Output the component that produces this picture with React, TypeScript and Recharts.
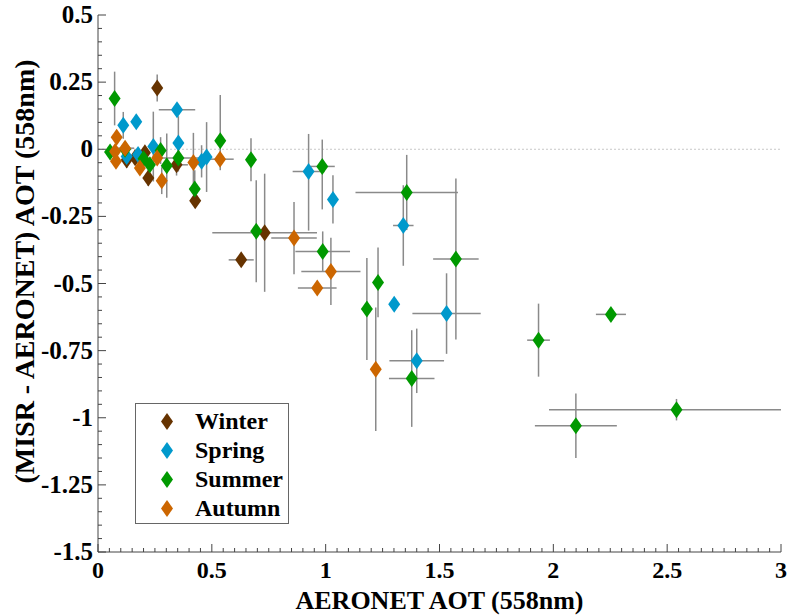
import React from 'react';
import {
  ScatterChart,
  Scatter,
  XAxis,
  YAxis,
  ErrorBar,
  ReferenceLine,
  Legend,
  Label,
} from 'recharts';

// [AERONET AOT, MISR - AERONET, x error, y error]; an error is ± or [low, high]
type Err = number | [number, number];
type Row = [number, number, Err, Err];

const WINTER: Row[] = [
  [0.126, -0.04, 0, 0.03],
  [0.163, -0.032, 0, 0],
  [0.206, -0.013, 0, 0],
  [0.221, -0.107, 0, 0.03],
  [0.345, -0.058, 0.05, 0.04],
  [0.26, 0.228, 0, 0.05],
  [0.427, -0.192, 0, 0],
  [0.629, -0.412, 0.055, 0],
  [0.732, -0.311, 0.23, 0.22],
];

const SPRING: Row[] = [
  [0.111, 0.089, 0, 0.05],
  [0.126, -0.027, 0, 0.03],
  [0.168, 0.102, 0, 0],
  [0.176, -0.02, 0, 0],
  [0.243, 0.01, 0, 0.13],
  [0.347, 0.147, 0.08, 0.02],
  [0.353, 0.023, 0, 0.1],
  [0.455, -0.045, 0, 0.06],
  [0.477, -0.029, 0, 0.13],
  [0.925, -0.083, 0.07, [0.22, 0.14]],
  [1.032, -0.187, 0, 0.09],
  [1.341, -0.284, 0.045, 0.15],
  [1.301, -0.577, 0, 0],
  [1.531, -0.612, 0.15, 0.15],
  [1.4, -0.788, 0.12, 0.12],
];

const SUMMER: Row[] = [
  [0.053, -0.01, 0, 0],
  [0.073, 0.189, 0, 0.1],
  [0.119, 0.0, 0, 0.03],
  [0.2, -0.035, 0, 0],
  [0.228, -0.058, 0, 0],
  [0.275, -0.005, 0, 0.05],
  [0.302, -0.061, 0, 0.12],
  [0.353, -0.033, 0.1, 0.05],
  [0.425, -0.148, 0, 0.07],
  [0.537, 0.032, 0, [0.11, 0.17]],
  [0.672, -0.039, 0, 0.08],
  [0.695, -0.305, 0, 0.19],
  [0.985, -0.064, 0.055, [0.16, 0.1]],
  [0.987, -0.381, 0.12, 0.075],
  [1.181, -0.595, 0, 0.19],
  [1.23, -0.496, 0, 0.13],
  [1.356, -0.161, 0.225, 0.14],
  [1.378, -0.854, 0.1, 0.18],
  [1.572, -0.409, 0.1, 0.3],
  [1.935, -0.711, 0.05, 0.136],
  [2.099, -1.03, 0.18, 0.12],
  [2.253, -0.615, 0.066, 0],
  [2.541, -0.97, [0.56, 0.459], 0.04],
];

const AUTUMN: Row[] = [
  [0.075, -0.008, 0, 0],
  [0.079, -0.045, 0, 0],
  [0.082, 0.045, 0, 0],
  [0.119, 0.004, 0.04, 0],
  [0.184, -0.07, 0, 0],
  [0.26, -0.033, 0, 0],
  [0.28, -0.117, 0, 0.05],
  [0.419, -0.049, 0, 0.11],
  [0.536, -0.037, 0.06, 0],
  [0.861, -0.331, 0.1, 0.135],
  [0.963, -0.517, 0.085, 0],
  [1.023, -0.455, 0.13, 0.125],
  [1.22, -0.819, 0, 0.23],
];

const SEASONS = [
  { name: 'Winter', color: '#663300', rows: WINTER },
  { name: 'Spring', color: '#0099cc', rows: SPRING },
  { name: 'Summer', color: '#009900', rows: SUMMER },
  { name: 'Autumn', color: '#cc6600', rows: AUTUMN },
];

const X_MAJOR = [0, 0.5, 1, 1.5, 2, 2.5, 3];
const Y_MAJOR = [-1.5, -1.25, -1, -0.75, -0.5, -0.25, 0, 0.25, 0.5];

const FONT = "'Liberation Serif', 'DejaVu Serif', 'Times New Roman', Times, serif";
const AXIS = '#444';
const ERR = '#8a8a8a';

// minor ticks every 0.05 between the first and last major tick
const minorTicks = (major: number[]) => {
  const out: number[] = [];
  const n = Math.round((major[major.length - 1] - major[0]) / 0.05);
  for (let i = 0; i <= n; i++) out.push(Math.round((major[0] + i * 0.05) * 100) / 100);
  return out;
};
const X_TICKS = minorTicks(X_MAJOR);
const Y_TICKS = minorTicks(Y_MAJOR);
const isMajor = (v: number, list: number[]) => list.some((m) => Math.abs(m - v) < 1e-6);

const BottomTick = (p: any) => {
  const major = isMajor(p.payload.value, X_MAJOR);
  return (
    <g>
      <line x1={p.x} x2={p.x} y1={p.y} y2={p.y - (major ? 8 : 4)} stroke={AXIS} />
      {major && (
        <text x={p.x} y={p.y + 26} textAnchor="middle" fontFamily={FONT} fontWeight={700} fontSize={24} fill="#000">
          {String(p.payload.value)}
        </text>
      )}
    </g>
  );
};

const TopTick = (p: any) => {
  const major = isMajor(p.payload.value, X_MAJOR);
  return <line x1={p.x} x2={p.x} y1={p.y} y2={p.y + (major ? 8 : 4)} stroke={AXIS} />;
};

const LeftTick = (p: any) => {
  const major = isMajor(p.payload.value, Y_MAJOR);
  return (
    <g>
      <line x1={p.x} x2={p.x + (major ? 8 : 4)} y1={p.y} y2={p.y} stroke={AXIS} />
      {major && (
        <text x={p.x - 5} y={p.y + 8} textAnchor="end" fontFamily={FONT} fontWeight={700} fontSize={25} fill="#000">
          {String(p.payload.value)}
        </text>
      )}
    </g>
  );
};

const RightTick = (p: any) => {
  const major = isMajor(p.payload.value, Y_MAJOR);
  return <line x1={p.x} x2={p.x - (major ? 8 : 4)} y1={p.y} y2={p.y} stroke={AXIS} />;
};

const Diamond = (p: any) => {
  const { cx, cy, fill } = p;
  if (cx == null || cy == null) return null;
  return <polygon points={`${cx},${cy - 8.5} ${cx + 6},${cy} ${cx},${cy + 8.5} ${cx - 6},${cy}`} fill={fill} />;
};

const SeasonLegend = () => (
  <div
    style={{
      width: 154,
      height: 121,
      border: '1px solid #666',
      boxSizing: 'border-box',
      background: '#fff',
      paddingTop: 3,
    }}
  >
    {SEASONS.map((s) => (
      <div key={s.name} style={{ height: 29, display: 'flex', alignItems: 'center' }}>
        <svg width={12} height={17} style={{ marginLeft: 25, marginRight: 22 }}>
          <polygon points="6,0 12,8.5 6,17 0,8.5" fill={s.color} />
        </svg>
        <span style={{ fontFamily: FONT, fontWeight: 700, fontSize: 24, color: '#000', lineHeight: '29px' }}>
          {s.name}
        </span>
      </div>
    ))}
  </div>
);

const XTitle = (p: any) => {
  const vb = p.viewBox;
  return (
    <text
      x={vb.x + vb.width / 2}
      y={vb.y + vb.height - 3}
      textAnchor="middle"
      fontFamily={FONT}
      fontWeight={700}
      fontSize={26}
      fill="#000"
    >
      AERONET AOT (558nm)
    </text>
  );
};

const YTitle = (p: any) => {
  const vb = p.viewBox;
  const x = vb.x + 34;
  const y = vb.y + vb.height / 2 - 12;
  return (
    <text
      x={x}
      y={y}
      transform={`rotate(-90, ${x}, ${y})`}
      textAnchor="middle"
      fontFamily={FONT}
      fontWeight={700}
      fontSize={28}
      fill="#000"
    >
      (MISR - AERONET) AOT (558nm)
    </text>
  );
};

export default function App() {
  return (
    <div style={{ position: 'absolute', left: 0, top: 0, width: 788, height: 615, background: '#fff', fontFamily: FONT }}>
      <ScatterChart width={788} height={615} margin={{ top: 15, right: 7, bottom: 3, left: 0 }}>
        <XAxis
          xAxisId="b"
          type="number"
          dataKey="x"
          domain={[0, 3]}
          ticks={X_TICKS}
          interval={0}
          height={60}
          tickSize={0}
          tickMargin={0}
          tickLine={false}
          axisLine={{ stroke: AXIS }}
          tick={BottomTick}
          allowDataOverflow
        >
          <Label content={XTitle} />
        </XAxis>
        <XAxis
          xAxisId="t"
          orientation="top"
          type="number"
          domain={[0, 3]}
          ticks={X_TICKS}
          interval={0}
          height={0}
          tickSize={0}
          tickMargin={0}
          tickLine={false}
          axisLine={{ stroke: AXIS }}
          tick={TopTick}
          allowDataOverflow
        />
        <YAxis
          yAxisId="l"
          type="number"
          dataKey="y"
          domain={[-1.5, 0.5]}
          ticks={Y_TICKS}
          interval={0}
          width={98}
          tickSize={0}
          tickMargin={0}
          tickLine={false}
          axisLine={{ stroke: AXIS }}
          tick={LeftTick}
          allowDataOverflow
        >
          <Label content={YTitle} />
        </YAxis>
        <YAxis
          yAxisId="r"
          orientation="right"
          type="number"
          domain={[-1.5, 0.5]}
          ticks={Y_TICKS}
          interval={0}
          width={0}
          tickSize={0}
          tickMargin={0}
          tickLine={false}
          axisLine={{ stroke: AXIS }}
          tick={RightTick}
          allowDataOverflow
        />
        <ReferenceLine xAxisId="b" yAxisId="l" y={0} stroke="#c8c8c8" strokeDasharray="2 2" />
        {SEASONS.map((s) => (
          <Scatter
            key={s.name}
            name={s.name}
            xAxisId="b"
            yAxisId="l"
            data={s.rows.map(([x, y, ex, ey]) => ({ x, y, ex, ey }))}
            fill={s.color}
            shape={Diamond}
            isAnimationActive={false}
          >
            <ErrorBar dataKey="ex" direction="x" width={0} stroke={ERR} strokeWidth={1.5} />
            <ErrorBar dataKey="ey" direction="y" width={0} stroke={ERR} strokeWidth={1.5} />
          </Scatter>
        ))}
        <Legend
          layout="vertical"
          align="center"
          verticalAlign="middle"
          content={SeasonLegend}
          wrapperStyle={{ left: 135, top: 403, width: 154, height: 121 }}
        />
      </ScatterChart>
    </div>
  );
}
